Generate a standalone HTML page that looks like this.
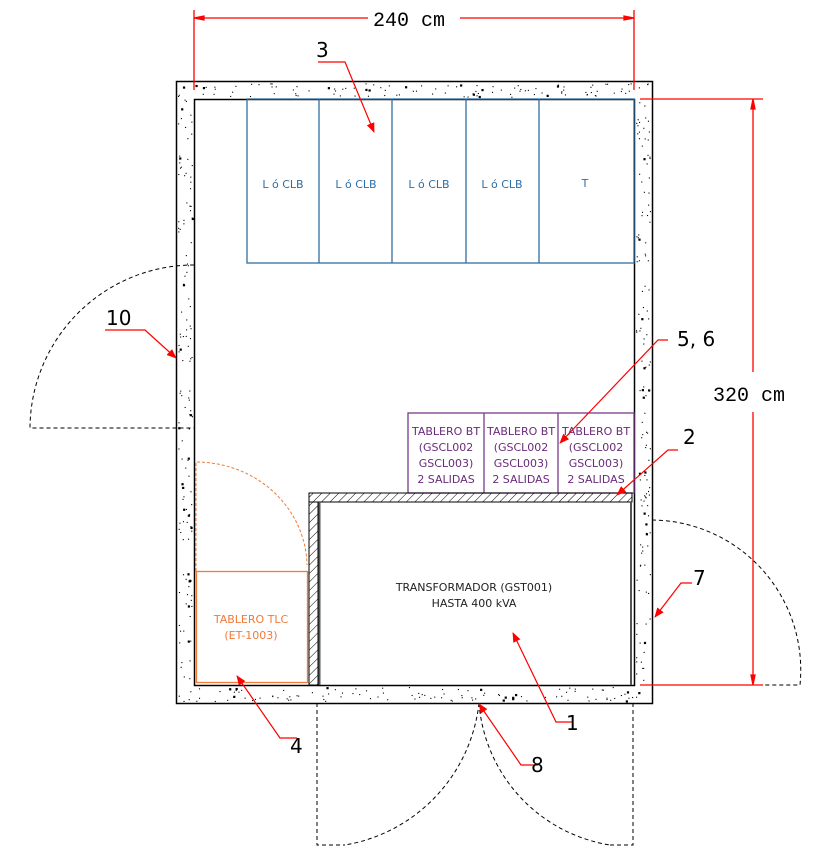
<!DOCTYPE html>
<html><head><meta charset="utf-8"><style>
html,body{margin:0;padding:0;background:#fff;width:830px;height:855px;overflow:hidden}
svg{display:block}
text{font-family:"DejaVu Sans","Liberation Sans",sans-serif}
</style></head><body>
<svg id="s" width="830" height="855" viewBox="0 0 830 855" xmlns="http://www.w3.org/2000/svg">
<defs>
<pattern id="h" width="6" height="6" patternUnits="userSpaceOnUse" patternTransform="rotate(45)">
<line x1="0" y1="0" x2="0" y2="6" stroke="#000" stroke-width="1"/></pattern>
<marker id="a" markerWidth="10" markerHeight="8" refX="9" refY="4" orient="auto" markerUnits="userSpaceOnUse"><path d="M0,0 L10,4 L0,8 Z" fill="#f00"/></marker>
</defs>
<rect x="176.5" y="81.5" width="476" height="622" fill="#fff" stroke="#000" stroke-width="1.5"/>
<rect x="194.5" y="99.5" width="440" height="586" fill="#fff" stroke="#000" stroke-width="1.5"/>
<g id="dots"></g>
<g fill="none" stroke="#000" stroke-dasharray="4,3" stroke-width="1">
<path d="M194,265 A164,164 0 0 0 30,428 L194,428"/>
<path d="M652,520 A150,150 0 0 1 800,685 L652,685"/>
<path d="M317,703 L317,845 L345,845 M479,703 A162,162 0 0 1 345,845"/>
<path d="M633,703 L633,845 L610,845 M479,703 A156,156 0 0 0 610,845"/>
</g>
<g fill="none" stroke="#2f6ea3" stroke-width="1.3">
<rect x="247" y="99" width="387" height="164"/>
<line x1="319" y1="99" x2="319" y2="263"/><line x1="392" y1="99" x2="392" y2="263"/>
<line x1="466" y1="99" x2="466" y2="263"/><line x1="539" y1="99" x2="539" y2="263"/>
</g>
<g fill="#2f6ea3" font-size="11" text-anchor="middle">
<text x="283" y="188">L ó CLB</text><text x="356" y="188">L ó CLB</text>
<text x="429" y="188">L ó CLB</text><text x="502" y="188">L ó CLB</text><text x="585" y="187">T</text>
</g>
<g fill="none" stroke="#7a3a8a" stroke-width="1.3">
<rect x="408" y="413" width="226" height="80"/>
<line x1="484" y1="413" x2="484" y2="493"/><line x1="558" y1="413" x2="558" y2="493"/>
</g>
<g fill="#6a2a7a" font-size="11" text-anchor="middle">
<text x="446" y="435">TABLERO BT</text><text x="446" y="451">(GSCL002</text><text x="446" y="467">GSCL003)</text><text x="446" y="483">2 SALIDAS</text>
<text x="521" y="435">TABLERO BT</text><text x="521" y="451">(GSCL002</text><text x="521" y="467">GSCL003)</text><text x="521" y="483">2 SALIDAS</text>
<text x="596" y="435">TABLERO BT</text><text x="596" y="451">(GSCL002</text><text x="596" y="467">GSCL003)</text><text x="596" y="483">2 SALIDAS</text>
</g>
<rect x="309" y="493" width="323" height="9" fill="url(#h)" stroke="#000"/>
<rect x="309" y="502" width="9" height="183" fill="url(#h)" stroke="#000"/>
<line x1="319.5" y1="502" x2="319.5" y2="685" stroke="#555" stroke-width="2"/>
<line x1="631" y1="502" x2="631" y2="685" stroke="#555" stroke-width="2"/>
<text x="474" y="591" font-size="11" text-anchor="middle" fill="#222">TRANSFORMADOR (GST001)</text>
<text x="474" y="607" font-size="11" text-anchor="middle" fill="#222">HASTA 400 kVA</text>
<rect x="196.5" y="571.5" width="111" height="111" fill="none" stroke="#f07a3a" stroke-width="1.3"/>
<path d="M196,571 L196,462 A111,105 0 0 1 307,565" fill="none" stroke="#f07a3a" stroke-dasharray="3,2"/>
<text x="251" y="623" font-size="11" text-anchor="middle" fill="#f07a3a">TABLERO TLC</text>
<text x="251" y="639" font-size="11" text-anchor="middle" fill="#f07a3a">(ET-1003)</text>
<g stroke="#f00" stroke-width="1.3" fill="none">
<line x1="194" y1="10" x2="194" y2="90"/><line x1="634" y1="10" x2="634" y2="90"/>
<line x1="196" y1="18" x2="368" y2="18"/><line x1="460" y1="18" x2="632" y2="18"/>
<path d="M194,18 l10,-2 v4 z M634,18 l-10,-2 v4 z" fill="#f00"/>
<line x1="640" y1="99" x2="763" y2="99"/><line x1="640" y1="685" x2="763" y2="685"/>
<line x1="753" y1="101" x2="753" y2="372"/><line x1="753" y1="412" x2="753" y2="683"/>
<path d="M753,99 l-2,10 h4 z M753,685 l-2,-10 h4 z" fill="#f00"/>
</g>
<g fill="#000" font-size="20">
<text x="373" y="26" style="font-family:'Liberation Mono',monospace">240 cm</text>
<text x="713" y="401" style="font-family:'Liberation Mono',monospace">320 cm</text>
</g>
<g stroke="#f00" stroke-width="1.2" fill="none" marker-end="url(#a)">
<path d="M318,62 L345,62 L374,132"/>
<path d="M105,330 L145,330 L176,358"/>
<path d="M668,340 L658,340 L560,443"/>
<path d="M678,450 L668,450 L617,495"/>
<path d="M692,583 L681,583 L655,617"/>
<path d="M572,722 L556,722 L513,633"/>
<path d="M297,738 L280,738 L237,676"/>
<path d="M538,765 L521,765 L479,704"/>
</g>
<g font-size="20" fill="#000">
<text x="316" y="57">3</text><text x="106" y="325">10</text><text x="677" y="346">5, 6</text>
<text x="683" y="444">2</text><text x="693" y="585">7</text><text x="566" y="730">1</text>
<text x="290" y="753">4</text><text x="531" y="772">8</text>
</g>
</svg>
<script>
(function(){var g=document.getElementById('dots'),ns='http://www.w3.org/2000/svg',s=7;
function r(){s=(s*16807)%2147483647;return s/2147483647;}
function add(x,y){var c=document.createElementNS(ns,'rect');c.setAttribute('x',x);c.setAttribute('y',y);var w=r()<0.1?2.2:1.1;c.setAttribute('width',w);c.setAttribute('height',w);c.setAttribute('fill','#000');g.appendChild(c);}
for(var i=0;i<110;i++){add(178+r()*472,83+r()*14);add(178+r()*472,687+r()*14);}
for(var i=0;i<130;i++){add(178+r()*14,99+r()*586);add(636+r()*14,99+r()*586);}
})();
</script>
</body></html>
